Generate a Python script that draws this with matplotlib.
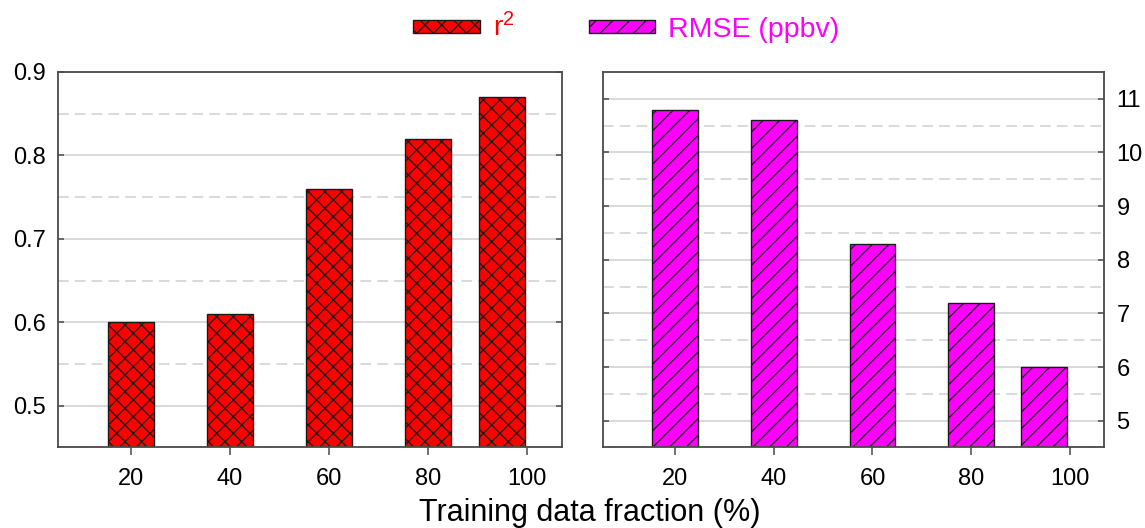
import matplotlib
matplotlib.use("Agg")
import matplotlib.pyplot as plt
from matplotlib.ticker import MultipleLocator
import numpy as np

plt.rcParams['font.family'] = ['Liberation Sans', 'DejaVu Sans']
plt.rcParams['mathtext.default'] = 'regular'
plt.rcParams['hatch.linewidth'] = 0.9

categories = [20, 40, 60, 80, 100]
r2_values = [0.60, 0.61, 0.76, 0.82, 0.87]
rmse_values = [10.8, 10.6, 8.3, 7.2, 6.0]
x_ticklabels = ['20', '40', '60', '80', '100']

# bar centres (the last bar is drawn just left of its tick in the original)
bar_x = [20, 40, 60, 80, 94.9]
bar_w = 9.3

fig = plt.figure(figsize=(11.45, 5.28), dpi=100)
ax1 = fig.add_axes([0.0507, 0.1525, 0.4402, 0.7112])
ax2 = fig.add_axes([0.5266, 0.1525, 0.4376, 0.7112])

spine_c = '#4a4a4a'
grid_c = '#cfcfcf'

def style(ax, ylim, major, minor, right):
    ax.set_xlim(5.3, 107)
    ax.set_ylim(*ylim)
    ax.set_axisbelow(True)
    ax.yaxis.set_major_locator(MultipleLocator(major))
    ax.yaxis.set_minor_locator(MultipleLocator(minor))
    ax.grid(True, which='major', axis='y', color=grid_c, lw=1.1, ls='-')
    ax.grid(True, which='minor', axis='y', color=grid_c, lw=1.1, ls=(0, (7, 4)))
    for s in ax.spines.values():
        s.set_color(spine_c)
        s.set_linewidth(1.3)
    ax.set_xticks(categories)
    ax.set_xticklabels(x_ticklabels)
    ax.tick_params(axis='x', direction='out', length=6, width=1.1, color=spine_c,
                   labelsize=17, pad=9)
    ax.tick_params(axis='y', which='major', direction='in', length=4, width=1.1,
                   color=spine_c, labelsize=17, left=True, right=True,
                   labelleft=not right, labelright=right, pad=9)
    ax.tick_params(axis='y', which='minor', left=False, right=False)

b1 = ax1.bar(bar_x, r2_values, width=bar_w, bottom=0, color='#ff0000',
             edgecolor='#1a1a1a', linewidth=1.0, hatch='xx', label='r$^{2}$')
style(ax1, (0.45, 0.9), 0.1, 0.05, right=False)
ax1.set_yticks([0.5, 0.6, 0.7, 0.8, 0.9])
ax1.set_yticklabels(['0.5', '0.6', '0.7', '0.8', '0.9'])

b2 = ax2.bar(bar_x, rmse_values, width=bar_w, bottom=0, color='#ff00ff',
             edgecolor='#1a1a1a', linewidth=1.0, hatch='//', label='RMSE (ppbv)')
style(ax2, (4.5, 11.5), 1, 0.5, right=True)

fig.text(0.515, 0.014, 'Training data fraction (%)', ha='center', va='baseline',
         fontsize=22, color='black')

leg = fig.legend(handles=[b1, b2], loc='center', bbox_to_anchor=(0.547, 0.947),
                 ncol=2, frameon=False, fontsize=20.5, handlelength=2.35,
                 handleheight=0.33, handletextpad=0.45, columnspacing=2.6,
                 labelcolor=['#ff0000', '#ff00ff'])

fig.savefig('out.png', dpi=100)
